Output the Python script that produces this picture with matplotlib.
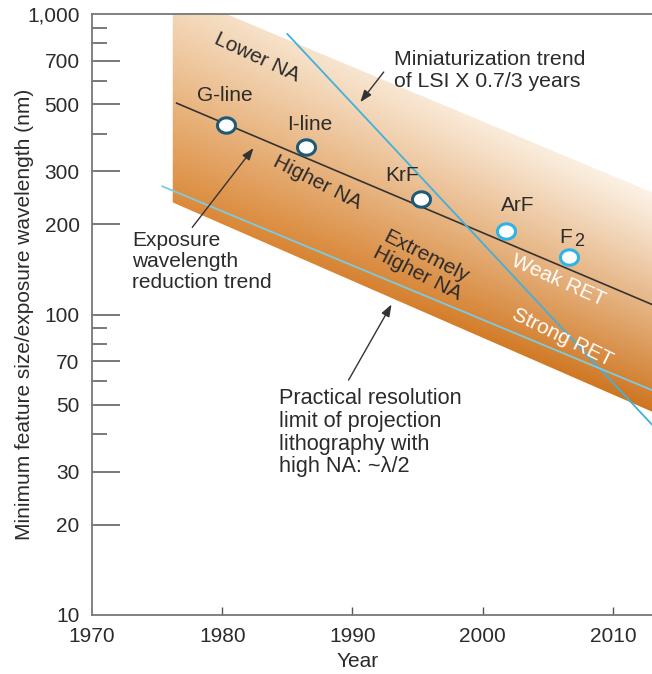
import numpy as np
import matplotlib
matplotlib.use('Agg')
import matplotlib.pyplot as plt
from matplotlib.patches import Polygon
from matplotlib.ticker import FixedLocator, NullFormatter

plt.rcParams['font.family'] = ['Liberation Sans', 'DejaVu Sans']

# data (year, nm)
band_years = [1976.2, 1980.3, 2013.0, 2013.0, 1976.2]
band_nm = [1000, 1000, 255, 47.5, 236]

trend_years = [1976.5, 2013.0]
trend_nm = [505, 108]

mini_years = [1985.0, 2013.0]
mini_nm = [858, 43]

limit_years = [1975.4, 2013.0]
limit_nm = [267, 56]

source_names = ['G-line', 'I-line', 'KrF', 'ArF', 'F2']
source_years = [1980.3, 1986.4, 1995.3, 2001.8, 2006.6]
source_nm = [427, 360, 242, 190, 155]
source_edge = ['#1d5a78', '#1d5a78', '#1d5a78', '#2eb3e6', '#2eb3e6']

ytick_vals = [10, 20, 30, 50, 70, 100, 200, 300, 500, 700, 1000]
ytick_labels = ['10', '20', '30', '50', '70', '100', '200', '300', '500', '700', '1,000']
yminor_vals = [40, 60, 80, 90, 400, 600, 800, 900]
xtick_vals = [1970, 1980, 1990, 2000, 2010]

XMIN, XMAX = 1970, 2013
TXT = '#2b2b2b'

fig = plt.figure(figsize=(6.52, 6.74), dpi=100)
ax = fig.add_axes([92 / 652, 59 / 674, 560 / 652, 601 / 674])
ax.set_yscale('log')

# gradient band, drawn in axes fractions and clipped to the polygon
def to_u(year):
    return (np.asarray(year, float) - XMIN) / (XMAX - XMIN)

def to_v(nm):
    return np.log10(np.asarray(nm, float) / 10) / 2

n = 400
uu, vv = np.meshgrid(np.linspace(0, 1, n), np.linspace(0, 1, n))
u1, u2 = to_u([band_years[1], band_years[2]])
v1, v2 = to_v([band_nm[1], band_nm[2]])
v_up = v1 + (v2 - v1) * (uu - u1) / (u2 - u1)
l1, l2 = to_u([band_years[4], band_years[3]])
w1, w2 = to_v([band_nm[4], band_nm[3]])
v_lo = w1 + (w2 - w1) * (uu - l1) / (l2 - l1)
t = np.clip((v_up - vv) / (v_up - v_lo), 0, 1) ** 1.1
s = np.clip((uu - l1) / (1 - l1), 0, 1)[..., None]
top = (1 - s) * np.array([245, 221, 193]) + s * np.array([252, 242, 230])
bot = (1 - s) * np.array([220, 138, 58]) + s * np.array([206, 116, 30])
rgb = ((1 - t[..., None]) * top + t[..., None] * bot) / 255

band = Polygon(np.column_stack([band_years, band_nm]), closed=True,
               facecolor='none', edgecolor='none')
ax.add_patch(band)
img = ax.imshow(rgb, extent=[0, 1, 0, 1], transform=ax.transAxes,
                origin='lower', aspect='auto', zorder=1, interpolation='bilinear')
img.set_clip_path(band)

ax.plot(trend_years, trend_nm, color='#333333', lw=1.2, zorder=2)
ax.plot(mini_years, mini_nm, color='#42b0dc', lw=1.3, zorder=2)
ax.plot(limit_years, limit_nm, color='#7ccbe3', lw=1.3, zorder=2)

th = np.linspace(0, 2 * np.pi, 60)
ell = np.column_stack([np.cos(th), 0.85 * np.sin(th)])
for yr, nm, ec in zip(source_years, source_nm, source_edge):
    ax.plot(yr, nm, marker=ell, ms=13, mfc='white', mec=ec, mew=2.2,
            ls='none', zorder=3)

fs = 15
label_pos = [(1980.2, 537), (1986.7, 430), (1993.8, 291), (2002.7, 231), (2006.4, 181)]
for name, (x, y) in zip(source_names, label_pos):
    if name == 'F2':
        ax.text(x, y, 'F', fontsize=fs, color=TXT, ha='center', va='center', zorder=4)
        ax.annotate('2', xy=(x, y), xytext=(6, -3), textcoords='offset points',
                    fontsize=13, color=TXT, ha='left', va='center', zorder=4)
    else:
        ax.text(x, y, name, fontsize=fs, color=TXT, ha='center', va='center', zorder=4)

ax.text(1982.7, 719, 'Lower NA', fontsize=fs, color=TXT, rotation=-25,
        ha='center', va='center', rotation_mode='anchor', zorder=4)
ax.text(1987.3, 276, 'Higher NA', fontsize=fs, color=TXT, rotation=-27,
        ha='center', va='center', rotation_mode='anchor', zorder=4)
ax.text(1995.3, 146, 'Extremely\nHigher NA', fontsize=fs, color=TXT, rotation=-27,
        ha='center', va='center', rotation_mode='anchor', linespacing=0.95, zorder=4)
ax.text(2005.8, 130, 'Weak RET', fontsize=fs, color='white', rotation=-24,
        ha='center', va='center', rotation_mode='anchor', zorder=4)
ax.text(2006.1, 84, 'Strong RET', fontsize=fs, color='white', rotation=-26,
        ha='center', va='center', rotation_mode='anchor', zorder=4)

arrow = dict(arrowstyle='-|>,head_length=0.6,head_width=0.22', color='#333333',
             lw=1.0, shrinkA=0, shrinkB=0, mutation_scale=12)
ax.text(1993.2, 651, 'Miniaturization trend\nof LSI X 0.7/3 years', fontsize=15.3,
        color=TXT, ha='left', va='center', linespacing=1.2, zorder=4)
ax.annotate('', xy=(1990.6, 509), xytext=(1992.4, 641), arrowprops=arrow, zorder=4)
ax.text(1973.1, 150, 'Exposure\nwavelength\nreduction trend', fontsize=fs,
        color=TXT, ha='left', va='center', linespacing=1.12, zorder=4)
ax.annotate('', xy=(1982.4, 358), xytext=(1977.7, 195), arrowprops=arrow, zorder=4)
ax.text(1984.35, 40.4, 'Practical resolution\nlimit of projection\nlithography with\nhigh NA: ~λ/2',
        fontsize=15.6, color=TXT, ha='left', va='center', linespacing=1.1, zorder=4)
ax.annotate('', xy=(1993.0, 108), xytext=(1989.7, 60.5), arrowprops=arrow, zorder=4)

ax.set_xlim(XMIN, XMAX)
ax.set_ylim(10, 1000)

ax.yaxis.set_major_locator(FixedLocator(ytick_vals))
ax.set_yticklabels(ytick_labels)
ax.yaxis.set_minor_locator(FixedLocator(yminor_vals))
ax.yaxis.set_minor_formatter(NullFormatter())
ax.set_xticks(xtick_vals)
ax.tick_params(axis='y', which='major', direction='in', length=20, width=1.1,
               color='#555555', pad=9, labelsize=fs, labelcolor=TXT)
ax.tick_params(axis='y', which='minor', direction='in', length=11, width=1.1,
               color='#555555')
ax.tick_params(axis='x', which='major', direction='in', length=6, width=1.0,
               color='#555555', pad=9, labelsize=fs, labelcolor=TXT)
for tk in ax.yaxis.get_major_ticks():
    if tk.get_loc() in (10, 1000):
        tk.tick1line.set_visible(False)
ax.xaxis.get_major_ticks()[0].tick1line.set_visible(False)

for side in ['left', 'bottom', 'top']:
    ax.spines[side].set_color('#777777')
    ax.spines[side].set_linewidth(1.3)
ax.spines['right'].set_visible(False)

ax.set_ylabel('Minimum feature size/exposure wavelength (nm)', fontsize=fs, color=TXT)
ax.yaxis.set_label_coords(-0.103, 0.5)
ax.set_xlabel('Year', fontsize=fs, color=TXT)
ax.xaxis.set_label_coords(0.475, -0.062)

fig.savefig('out.png', dpi=100)
